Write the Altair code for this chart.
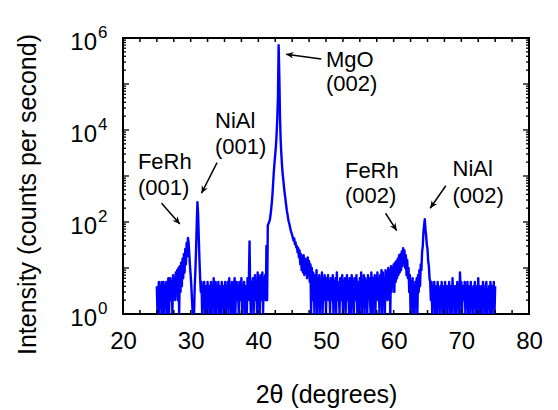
import math
import altair as alt
import pandas as pd

FONT = "Liberation Sans"

# ---- XRD scan: 2theta grid start/step and counts per second ----
START = 25.0
STEP = 0.1
COUNTS = [
    4, 1, 3, 5, 1, 4, 2, 5, 1, 3,            # 25
    5, 1, 4, 2, 5, 1, 3, 6, 1, 4,            # 26
    6, 2, 5, 1, 7, 3, 6, 2, 8, 3,            # 27
    9, 2, 10, 1, 11, 3, 13, 4, 16, 6,        # 28
    20, 8, 26, 12, 35, 18, 45, 35, 20, 11,   # 29
    7, 4, 2, 1, 2, 1, 4, 9, 25, 90,          # 30
    270, 150, 45, 15, 6, 3, 5, 1, 4, 2,      # 31
    5, 1, 3, 4, 1, 5, 2, 4, 1, 3,            # 32
    5, 1, 4, 2, 6, 1, 3, 5, 1, 4,            # 33
    2, 5, 1, 4, 3, 1, 5, 2, 4, 1,            # 34
    3, 5, 1, 4, 2, 5, 1, 6, 2, 4,            # 35
    1, 5, 3, 1, 4, 6, 1, 3, 5, 2,            # 36
    4, 1, 5, 2, 3, 6, 1, 4, 2, 5,            # 37
    1, 4, 3, 1, 6, 2, 5, 38, 3, 1,           # 38
    5, 2, 6, 1, 4, 7, 2, 5, 1, 8,            # 39
    3, 6, 1, 7, 2, 5, 8, 1, 6, 3,            # 40
    7, 2, 30, 2, 85, 92, 100, 112, 140, 190, # 41
    270, 420, 750, 1300, 2000, 3000, 4500, 8000, 18000, 50000,  # 42
    700000, 150000, 20000, 6000, 3000, 1700, 1100, 800, 560, 420,  # 43
    320, 240, 180, 150, 120, 100, 90, 75, 65, 58,  # 44
    52, 45, 40, 44, 33, 36, 28, 30, 22, 27,  # 45
    17, 24, 12, 20, 9, 18, 8, 19, 7, 16,     # 46
    8, 15, 6, 17, 7, 14, 5, 12, 1, 10,       # 47
    2, 8, 4, 1, 7, 3, 9, 1, 6, 2,            # 48
    7, 1, 5, 3, 8, 1, 6, 2, 7, 4,            # 49
    1, 6, 3, 7, 2, 5, 1, 6, 4, 2,            # 50
    7, 1, 5, 3, 6, 1, 8, 2, 5, 3,            # 51
    1, 6, 4, 2, 7, 1, 5, 3, 6, 1,            # 52
    4, 7, 2, 5, 1, 6, 3, 1, 7, 2,            # 53
    5, 1, 6, 3, 2, 7, 1, 5, 4, 1,            # 54
    6, 2, 8, 1, 5, 3, 7, 1, 6, 2,            # 55
    5, 1, 7, 3, 6, 2, 1, 8, 4, 1,            # 56
    6, 2, 7, 1, 5, 4, 8, 2, 6, 1,            # 57
    7, 3, 9, 1, 8, 2, 6, 1, 9, 3,            # 58
    8, 2, 10, 4, 9, 1, 11, 3, 10, 5,         # 59
    12, 3, 13, 5, 14, 6, 16, 7, 19, 8,       # 60
    20, 9, 23, 11, 27, 13, 24, 10, 19, 7,    # 61
    15, 6, 10, 3, 7, 1, 5, 2, 6, 1,          # 62
    4, 1, 5, 2, 6, 1, 7, 3, 9, 4,            # 63
    12, 9, 22, 30, 60, 85, 115, 70, 50, 32,  # 64
    26, 14, 11, 6, 5, 2, 5, 1, 4, 2,         # 65
    5, 1, 3, 4, 1, 5, 2, 3, 1, 4,            # 66
    2, 5, 1, 3, 4, 1, 5, 2, 4, 1,            # 67
    4, 2, 5, 1, 3, 4, 1, 6, 2, 4,            # 68
    1, 4, 3, 1, 5, 2, 4, 1, 8, 3,            # 69
    5, 1, 4, 2, 3, 5, 1, 4, 2, 5,            # 70
    1, 3, 4, 1, 5, 2, 3, 1, 4, 2,            # 71
    5, 1, 3, 4, 1, 6, 2, 4, 1, 3,            # 72
    4, 1, 5, 2, 3, 1, 4, 5, 1, 3,            # 73
    2, 4, 1, 5, 3, 1, 4, 2, 5, 1,            # 74
    4,                                       # 75
]
TWO_THETA = [round(START + i * STEP, 1) for i in range(len(COUNTS))]

# ---- axes ----
X_DOMAIN = [20, 80]
X_LABELS = [20, 30, 40, 50, 60, 70, 80]
X_TICKS = [20 + 2.5 * k for k in range(25)]
Y_DOMAIN = [1, 1e6]
Y_MAJOR = [1, 10, 100, 1e3, 1e4, 1e5, 1e6]
Y_MINOR = [m * 10 ** d for d in range(6) for m in range(2, 10)]
Y_LABEL_VALUES = [1, 100, 1e4, 1e6]
Y_LABEL_EXP = ["0", "2", "4", "6"]

# ---- annotations (data coordinates) ----
LABEL_TEXT = ["MgO", "(002)", "NiAl", "(001)", "FeRh", "(001)", "FeRh", "(002)", "NiAl", "(002)"]
LABEL_X = [50.0, 50.0, 33.6, 33.6, 22.2, 22.2, 52.8, 52.8, 68.7, 68.7]
LABEL_Y = [234000, 70000, 11000, 3000, 1420, 386, 918, 259, 1000, 259]

ARROW_X1 = [49.3, 33.9, 25.7, 58.8, 67.7]
ARROW_Y1 = [349000, 1950, 255, 155, 615]
ARROW_X2 = [44.1, 31.6, 28.4, 60.45, 65.4]
ARROW_Y2 = [442000, 421, 90, 65, 199]

W, H = 406, 276

xscale = alt.Scale(domain=X_DOMAIN, nice=False, zero=False)
yscale = alt.Scale(type="log", domain=Y_DOMAIN, nice=False)

XAXIS = alt.Axis(values=X_LABELS, ticks=False, tickSize=0, domain=False, grid=False,
                 labelFontSize=24, labelPadding=15, labelFlush=False, labelOverlap=False,
                 title="2θ (degrees)", titleFontSize=25, titleFontWeight="normal",
                 titleY=80, titleBaseline="middle")
YAXIS = alt.Axis(labels=False, ticks=False, tickSize=0, domain=False, grid=False,
                 title="Intensity (counts per second)", titleFontSize=25,
                 titleFontWeight="normal", titleAngle=270, titleX=-96, titleY=156,
                 titleAlign="center", titleBaseline="middle")


def X(field):
    return alt.X(field, scale=xscale, axis=XAXIS)


def Y(field):
    return alt.Y(field, scale=yscale, axis=YAXIS)


df = pd.DataFrame({"tt": TWO_THETA, "I": COUNTS})

line = alt.Chart(df).mark_line(color="#0000ff", strokeWidth=2.4, clip=True,
                               strokeJoin="round").encode(
    x=X("tt:Q"), y=Y("I:Q"))

xt = pd.DataFrame({"v": X_TICKS})
ymaj = pd.DataFrame({"v": Y_MAJOR})
ymin = pd.DataFrame({"v": Y_MINOR})


def xticks(y0, y1):
    return alt.Chart(xt).mark_rule(color="black", strokeWidth=1.5).encode(
        x=X("v:Q"), y=alt.value(y0), y2=alt.value(y1))


def yticks(d, x0, x1):
    return alt.Chart(d).mark_rule(color="black", strokeWidth=1.3).encode(
        y=Y("v:Q"), x=alt.value(x0), x2=alt.value(x1))


ticks = [
    xticks(0, 4), xticks(H, H - 4),
    yticks(ymaj, 0, 6), yticks(ymaj, W, W - 6),
    yticks(ymin, 0, 3), yticks(ymin, W, W - 3),
]

ylab = pd.DataFrame({"v": Y_LABEL_VALUES, "base": ["10"] * 4, "exp": Y_LABEL_EXP})
ybase = alt.Chart(ylab).mark_text(align="right", baseline="middle", fontSize=24, dy=4.5,
                                   color="black", font=FONT).encode(
    x=alt.value(-26), y=Y("v:Q"), text="base:N")
yexp = alt.Chart(ylab).mark_text(align="left", baseline="middle", fontSize=17, dy=-5,
                                  color="black", font=FONT).encode(
    x=alt.value(-25), y=Y("v:Q"), text="exp:N")

lab = pd.DataFrame({"t": LABEL_TEXT, "x": LABEL_X, "y": LABEL_Y, "i": list(range(len(LABEL_TEXT)))})
labels = alt.Chart(lab).mark_text(align="left", baseline="alphabetic", fontSize=22,
                                   color="black", font=FONT).encode(
    x=X("x:Q"), y=Y("y:Q"), text="t:N", detail="i:N")

angles = []
for x1, y1, x2, y2 in zip(ARROW_X1, ARROW_Y1, ARROW_X2, ARROW_Y2):
    dx = (x2 - x1) * W / (X_DOMAIN[1] - X_DOMAIN[0])
    dy = -(math.log10(y2) - math.log10(y1)) * H / 6.0
    angles.append(math.degrees(math.atan2(dy, dx)) % 360)

arr = pd.DataFrame({"x1": ARROW_X1, "y1": ARROW_Y1, "x2": ARROW_X2, "y2": ARROW_Y2, "ang": angles})
shafts = alt.Chart(arr).mark_rule(color="black", strokeWidth=1.5).encode(
    x=X("x1:Q"), y=Y("y1:Q"), x2="x2:Q", y2="y2:Q")
heads = alt.Chart(arr).mark_point(shape="M0,0L-1,-0.45L-0.7,0L-1,0.45Z", filled=True,
                                  color="black", opacity=1, size=220, strokeWidth=0).encode(
    x=X("x2:Q"), y=Y("y2:Q"), angle=alt.Angle("ang:Q", scale=None))

chart = alt.layer(line, *ticks, ybase, yexp, shafts, heads, labels).properties(
    width=W, height=H,
    autosize=alt.AutoSizeParams(type="none"),
    padding={"left": 115, "top": 30, "right": 20, "bottom": 94},
).configure(font=FONT).configure_view(stroke="black", strokeWidth=2).configure_axis(
    labelColor="black", titleColor="black", labelFont=FONT, titleFont=FONT)

chart.save("out.html", embed_options={"renderer": "svg", "actions": False})
